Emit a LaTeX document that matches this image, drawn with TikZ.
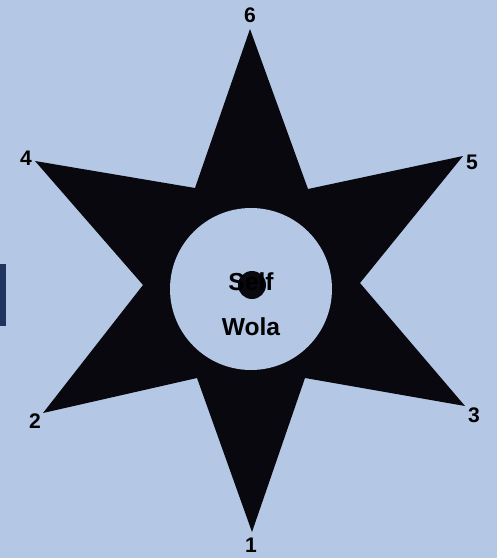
\documentclass[tikz,border=0pt]{standalone}
\usepackage{fontspec}
\setmainfont{Liberation Sans}
\definecolor{skyback}{RGB}{180,200,230}
\definecolor{barblue}{RGB}{31,53,96}
\definecolor{starblack}{RGB}{8,8,14}

\begin{document}
\begin{tikzpicture}[
    x=0.02cm, y=-0.02cm,
    num/.style={font=\bfseries\fontsize{12}{12}\selectfont, text=black, inner sep=0pt},
    core/.style={circle, fill=skyback, minimum size=3.24cm, inner sep=0pt},
    word/.style={font=\bfseries\fontsize{14}{14}\selectfont, text=black, inner sep=0pt}
]

\fill[skyback] (0,0) rectangle (497,558);
\useasboundingbox (0,0) rectangle (497,558);
\fill[barblue] (0,264) rectangle (6,326);

% star tips
\coordinate (t6) at (250,29);
\coordinate (t5) at (463,156);
\coordinate (t3) at (465,406);
\coordinate (t1) at (252,532);
\coordinate (t2) at (43,413);
\coordinate (t4) at (35,161);
% inner corners
\coordinate (i65) at (308,189);
\coordinate (i53) at (360,283);
\coordinate (i31) at (305,378);
\coordinate (i12) at (197,378);
\coordinate (i24) at (143,285);
\coordinate (i46) at (195,188);

\fill[starblack] (t6) -- (i65) -- (t5) -- (i53) -- (t3) -- (i31) -- (t1)
    -- (i12) -- (t2) -- (i24) -- (t4) -- (i46) -- cycle;

\node[core] (hub) at (251,289) {};
\node[circle, fill=starblack, minimum size=0.56cm, inner sep=0pt] (blob) at (252,285) {};
\node[word] (self) at (251,282) {Self};
\node[word] (wola) at (251,327) {Wola};

\node[num] (n6) at (250,15) {6};
\node[num] (n5) at (472,162) {5};
\node[num] (n3) at (474,415) {3};
\node[num] (n1) at (251,545) {1};
\node[num] (n2) at (35,421) {2};
\node[num] (n4) at (26,158) {4};

\end{tikzpicture}
\end{document}
